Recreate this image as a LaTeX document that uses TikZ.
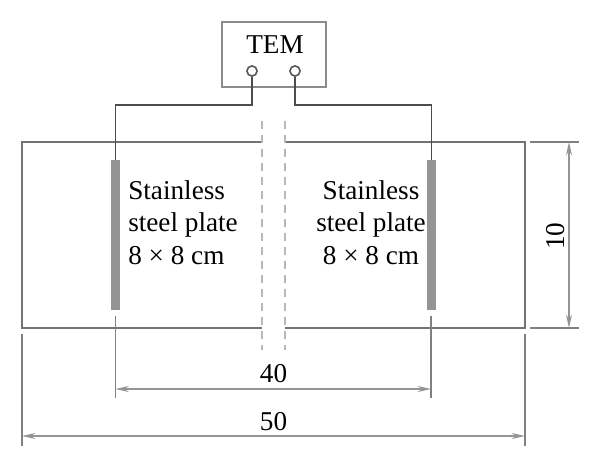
\documentclass[tikz,border=0pt]{standalone}
\usepackage{fontspec}
\setmainfont{Liberation Serif}
\usetikzlibrary{arrows.meta}

\tikzset{
	wall/.style={draw=black!55,line width=1.2pt},
	cut/.style={draw=black!28,line width=0.9pt,dash pattern=on 6pt off 4.5pt},
	wire/.style={draw=black!70,line width=1.2pt},
	plate/.style={rectangle,fill=black!42,minimum width=7pt,minimum height=112.5pt,inner sep=0pt},
	terminal/.style={circle,draw=black!65,line width=1.1pt,fill=white,minimum size=7.5pt,inner sep=0pt},
	extline/.style={draw=black!50,line width=0.9pt},
	dimline/.style={draw=black!42,line width=1pt,{Stealth[length=10pt,width=4.5pt]}-{Stealth[length=10pt,width=4.5pt]}},
	label/.style={font=\fontsize{20.4}{24.4}\selectfont,inner sep=0pt}
}

\begin{document}
\begin{tikzpicture}[x=0.75pt,y=-0.75pt]
		\useasboundingbox (0,0) rectangle (600,467);

		% tank outline, open at the cut
		\coordinate (TL) at (22,142);
		\coordinate (TR) at (525,142);
		\coordinate (BL) at (22,328);
		\coordinate (BR) at (525,328);
		\coordinate (cutTL) at (262,142);
		\coordinate (cutTR) at (285,142);
		\coordinate (cutBL) at (262,328);
		\coordinate (cutBR) at (285,328);
		\draw[wall] (cutTL) -- (TL) -- (BL) -- (cutBL);
		\draw[wall] (cutTR) -- (TR) -- (BR) -- (cutBR);

		\coordinate (cutL1) at (262,121);
		\coordinate (cutL2) at (262,350);
		\coordinate (cutR1) at (285,121);
		\coordinate (cutR2) at (285,350);
		\draw[cut] (cutL1) -- (cutL2);
		\draw[cut] (cutR1) -- (cutR2);

		% instrument
		\node[rectangle,draw=black!45,line width=1pt,minimum width=78pt,minimum height=48.75pt,inner sep=0pt] (box) at (274,54.5) {};
		\node[label,anchor=base] (tem) at (275,54) {TEM};
		\node[terminal] (termL) at (252,71) {};
		\node[terminal] (termR) at (295,71) {};

		% plates
		\node[plate] (plateL) at (115.5,235) {};
		\node[plate] (plateR) at (431.5,235) {};

		\coordinate (kneeL) at (115.5,105);
		\coordinate (kneeR) at (431.5,105);
		\draw[wire] (termL) |- (kneeL) -- (plateL);
		\draw[wire] (termR) |- (kneeR) -- (plateR);
		\node[terminal] at (termL) {};
		\node[terminal] at (termR) {};

		\node[label,align=left,anchor=north west] (textL) at (128,180) {Stainless\\steel plate\\8 × 8 cm};
		\node[label,align=center,anchor=north] (textR) at (371,180) {Stainless\\steel plate\\8 × 8 cm};

		% dimensions
		\coordinate (extA1) at (115.5,316);
		\coordinate (extA2) at (115.5,398);
		\coordinate (extB1) at (431,316);
		\coordinate (extB2) at (431,398);
		\coordinate (extC1) at (22,334);
		\coordinate (extC2) at (22,446);
		\coordinate (extD1) at (525,334);
		\coordinate (extD2) at (525,446);
		\coordinate (extE1) at (530,142);
		\coordinate (extE2) at (579,142);
		\coordinate (extF1) at (530,328);
		\coordinate (extF2) at (579,328);
		\draw[extline] (extA1) -- (extA2);
		\draw[extline] (extB1) -- (extB2);
		\draw[extline] (extC1) -- (extC2);
		\draw[extline] (extD1) -- (extD2);
		\draw[extline] (extE1) -- (extE2);
		\draw[extline] (extF1) -- (extF2);

		\coordinate (dimA) at (115.5,389);
		\coordinate (dimB) at (431,389);
		\coordinate (dimC) at (22,436);
		\coordinate (dimD) at (525,436);
		\coordinate (dimE) at (569,142);
		\coordinate (dimF) at (569,328);
		\draw[dimline] (dimA) -- (dimB);
		\draw[dimline] (dimC) -- (dimD);
		\draw[dimline] (dimE) -- (dimF);

		\node[label] (len40) at (273.5,374) {40};
		\node[label] (len50) at (273.5,421.5) {50};
		\node[label,rotate=90] (len10) at (556,236) {10};
	\end{tikzpicture}
\end{document}
